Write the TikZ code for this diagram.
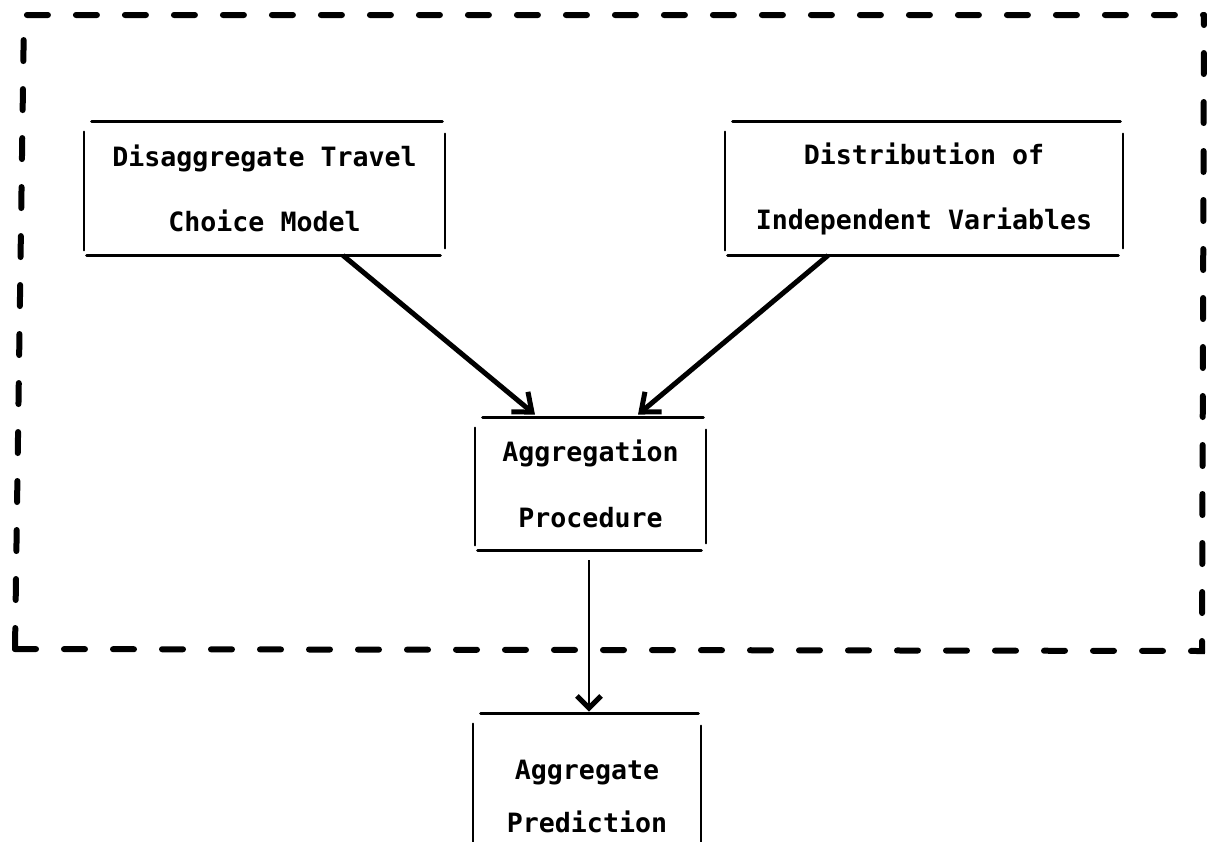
\documentclass[tikz,border=0pt]{standalone}
\usepackage{fontspec}
\setmonofont{DejaVu Sans Mono}
\usetikzlibrary{arrows.meta,calc}
\newcommand\myboxlines[1]{%
  \draw[hline] ($(#1.north west)+(8,0)$) -- ($(#1.north east)+(-3,0)$);
  \draw[hline] ($(#1.south west)+(3,0)$) -- ($(#1.south east)+(-5,0)$);
  \draw[vline] ($(#1.north west)+(0,10)$) -- ($(#1.south west)+(0,-5)$);
  \draw[vline] ($(#1.north east)+(0,12)$) -- ($(#1.south east)+(0,-7)$);
}
\begin{document}
\begin{tikzpicture}[x=0.5pt,y=-0.5pt,
  boxnode/.style={inner sep=0pt, align=center, font=\ttfamily\bfseries\fontsize{13.3}{32.5}\selectfont},
  hline/.style={line width=1.5pt, line cap=round},
  vline/.style={line width=1pt, line cap=round},
  framedash/.style={line width=3pt, line cap=round, dash pattern=on 10.5pt off 14pt},
  bigarrow/.style={line width=2.5pt, -{Straight Barb[length=8pt,width=13pt,line width=2.5pt]}},
  thinarrow/.style={line width=1pt, -{Straight Barb[length=6pt,width=12pt,line width=2.6pt]}}]
\useasboundingbox (0,0) rectangle (1207,842);
\clip (0,0) rectangle (1207,842);
\fill[white] (0,0) rectangle (1207,842);
% dashed frame
\coordinate (fa) at (24,15);
\coordinate (fb) at (1204,15);
\coordinate (fc) at (1202,651);
\coordinate (fd) at (15,649);
\draw[framedash] (fd) -- (fa) -- (fb);
\draw[framedash] (fd) -- (fc) -- (fb);
% boxes
\node[boxnode, minimum width=180.5pt, minimum height=66.5pt] (dtc) at (264.5,188.5)
  {Disaggregate Travel\\Choice Model};
\node[boxnode, minimum width=199pt, minimum height=66.5pt] (div) at (924,188.5)
  {Distribution of\\Independent Variables};
\node[boxnode, minimum width=115.5pt, minimum height=66pt, font=\ttfamily\bfseries\fontsize{13.3}{33}\selectfont] (agg) at (590.5,484)
  {Aggregation\\Procedure};
\node[boxnode, minimum width=114pt, minimum height=82pt, font=\ttfamily\bfseries\fontsize{13.3}{26.5}\selectfont] (pred) at (587,796)
  {Aggregate\\Prediction};
\myboxlines{dtc}
\myboxlines{div}
\myboxlines{agg}
\myboxlines{pred}
% connectors
\draw[bigarrow] ($(dtc.south)+(78.5,0)$) -- ($(agg.north)+(-55.5,-3)$);
\draw[bigarrow] ($(div.south)+(-96,0)$) -- ($(agg.north)+(47.5,-3)$);
\draw[thinarrow] ($(agg.south)+(-1.5,10)$) -- ($(pred.north)+(2,-2)$);
\end{tikzpicture}
\end{document}
